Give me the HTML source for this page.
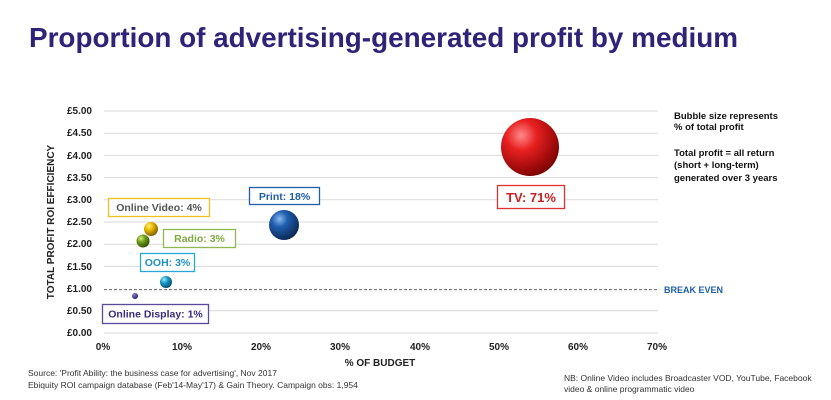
<!DOCTYPE html>
<html><head><meta charset="utf-8"><style>
html,body{margin:0;padding:0;background:#fff}
svg{display:block;font-family:"Liberation Sans",Arial,sans-serif}
</style></head><body>
<svg width="831" height="400" viewBox="0 0 831 400" xmlns="http://www.w3.org/2000/svg">
<defs>
<radialGradient id="gr" cx="0.35" cy="0.3" r="0.75"><stop offset="0" stop-color="#ff8a8a"/><stop offset="0.35" stop-color="#e82020"/><stop offset="1" stop-color="#7a0000"/></radialGradient>
<radialGradient id="gb" cx="0.35" cy="0.3" r="0.75"><stop offset="0" stop-color="#8ab8f0"/><stop offset="0.35" stop-color="#1f5fb0"/><stop offset="1" stop-color="#0a2550"/></radialGradient>
<radialGradient id="gy" cx="0.35" cy="0.3" r="0.75"><stop offset="0" stop-color="#fff27a"/><stop offset="0.4" stop-color="#e8b800"/><stop offset="1" stop-color="#7a5a00"/></radialGradient>
<radialGradient id="gg" cx="0.35" cy="0.3" r="0.75"><stop offset="0" stop-color="#d4f07a"/><stop offset="0.4" stop-color="#70a020"/><stop offset="1" stop-color="#2e4a00"/></radialGradient>
<radialGradient id="gc" cx="0.35" cy="0.3" r="0.75"><stop offset="0" stop-color="#9ee8ff"/><stop offset="0.4" stop-color="#1a9ac8"/><stop offset="1" stop-color="#004a6a"/></radialGradient>
<radialGradient id="gp" cx="0.35" cy="0.3" r="0.75"><stop offset="0" stop-color="#8a80d0"/><stop offset="1" stop-color="#241a6a"/></radialGradient>
</defs>
<text x="29" y="47" font-size="28" font-weight="bold" fill="#2e2378" textLength="709" lengthAdjust="spacingAndGlyphs">Proportion of advertising-generated profit by medium</text>
<g stroke="#d9d9d9" stroke-width="1">
<line x1="104" x2="658" y1="111" y2="111"/><line x1="104" x2="658" y1="133.2" y2="133.2"/><line x1="104" x2="658" y1="155.4" y2="155.4"/><line x1="104" x2="658" y1="177.6" y2="177.6"/><line x1="104" x2="658" y1="199.8" y2="199.8"/><line x1="104" x2="658" y1="222" y2="222"/><line x1="104" x2="658" y1="244.2" y2="244.2"/><line x1="104" x2="658" y1="266.4" y2="266.4"/><line x1="104" x2="658" y1="310.8" y2="310.8"/><line x1="104" x2="658" y1="333" y2="333"/>
</g>
<line x1="104" x2="658" y1="289.6" y2="289.6" stroke="#666" stroke-dasharray="3,2"/>
<g font-size="10" font-weight="bold" fill="#222" text-anchor="end">
<text x="92" y="114">£5.00</text><text x="92" y="136">£4.50</text><text x="92" y="159">£4.00</text><text x="92" y="181">£3.50</text><text x="92" y="203">£3.00</text><text x="92" y="225">£2.50</text><text x="92" y="247">£2.00</text><text x="92" y="270">£1.50</text><text x="92" y="292">£1.00</text><text x="92" y="314">£0.50</text><text x="92" y="336">£0.00</text>
</g>
<g font-size="10" font-weight="bold" fill="#222" text-anchor="middle">
<text x="103" y="350">0%</text><text x="182" y="350">10%</text><text x="261" y="350">20%</text><text x="340" y="350">30%</text><text x="420" y="350">40%</text><text x="499" y="350">50%</text><text x="578" y="350">60%</text><text x="657" y="350">70%</text>
<text x="380" y="366">% OF BUDGET</text>
</g>
<text transform="translate(54,222) rotate(-90)" font-size="10" font-weight="bold" fill="#222" text-anchor="middle">TOTAL PROFIT ROI EFFICIENCY</text>
<circle cx="530" cy="147" r="29" fill="url(#gr)"/>
<circle cx="284" cy="225" r="15" fill="url(#gb)"/>
<circle cx="151" cy="229" r="7" fill="url(#gy)"/>
<circle cx="143" cy="241" r="6.5" fill="url(#gg)"/>
<circle cx="166" cy="282" r="6" fill="url(#gc)"/>
<circle cx="135" cy="296" r="3" fill="url(#gp)"/>
<g font-size="10.5" font-weight="bold" text-anchor="middle" stroke-width="1.3">
<rect x="108.5" y="198.5" width="101" height="18" fill="#fff" stroke="#f0c020"/><text x="159" y="211" fill="#555">Online Video: 4%</text>
<rect x="163.5" y="229.5" width="72" height="18" fill="#fff" stroke="#90b850"/><text x="199.5" y="242" fill="#80a840">Radio: 3%</text>
<rect x="140.5" y="253.5" width="54" height="18" fill="#fff" stroke="#28a8d8"/><text x="167.5" y="266" fill="#2090c0">OOH: 3%</text>
<rect x="102.5" y="304.5" width="106" height="19" fill="#fff" stroke="#5a4a98"/><text x="155.5" y="317.5" fill="#3a2a80">Online Display: 1%</text>
<rect x="249.5" y="187.5" width="70" height="17" fill="#fff" stroke="#2060a8"/><text x="284.5" y="200" fill="#1f5fa8">Print: 18%</text>
<rect x="497.5" y="185.5" width="67" height="23" fill="#fff" stroke="#e03030"/><text x="531" y="202" fill="#c82020" font-size="13">TV: 71%</text>
</g>
<text x="664" y="293" font-size="9" font-weight="bold" fill="#1f5fa8">BREAK EVEN</text>
<g font-size="9.5" font-weight="bold" fill="#111">
<text x="674" y="119">Bubble size represents</text>
<text x="674" y="130">% of total profit</text>
<text x="674" y="156">Total profit = all return</text>
<text x="674" y="168">(short + long-term)</text>
<text x="674" y="181">generated over 3 years</text>
</g>
<g font-size="8.5" fill="#333">
<text x="28" y="376">Source: 'Profit Ability: the business case for advertising', Nov 2017</text>
<text x="28" y="388">Ebiquity ROI campaign database (Feb'14-May'17) &amp; Gain Theory. Campaign obs: 1,954</text>
<text x="564" y="381">NB: Online Video includes Broadcaster VOD, YouTube, Facebook</text>
<text x="564" y="392">video &amp; online programmatic video</text>
</g>
</svg>
</body></html>
